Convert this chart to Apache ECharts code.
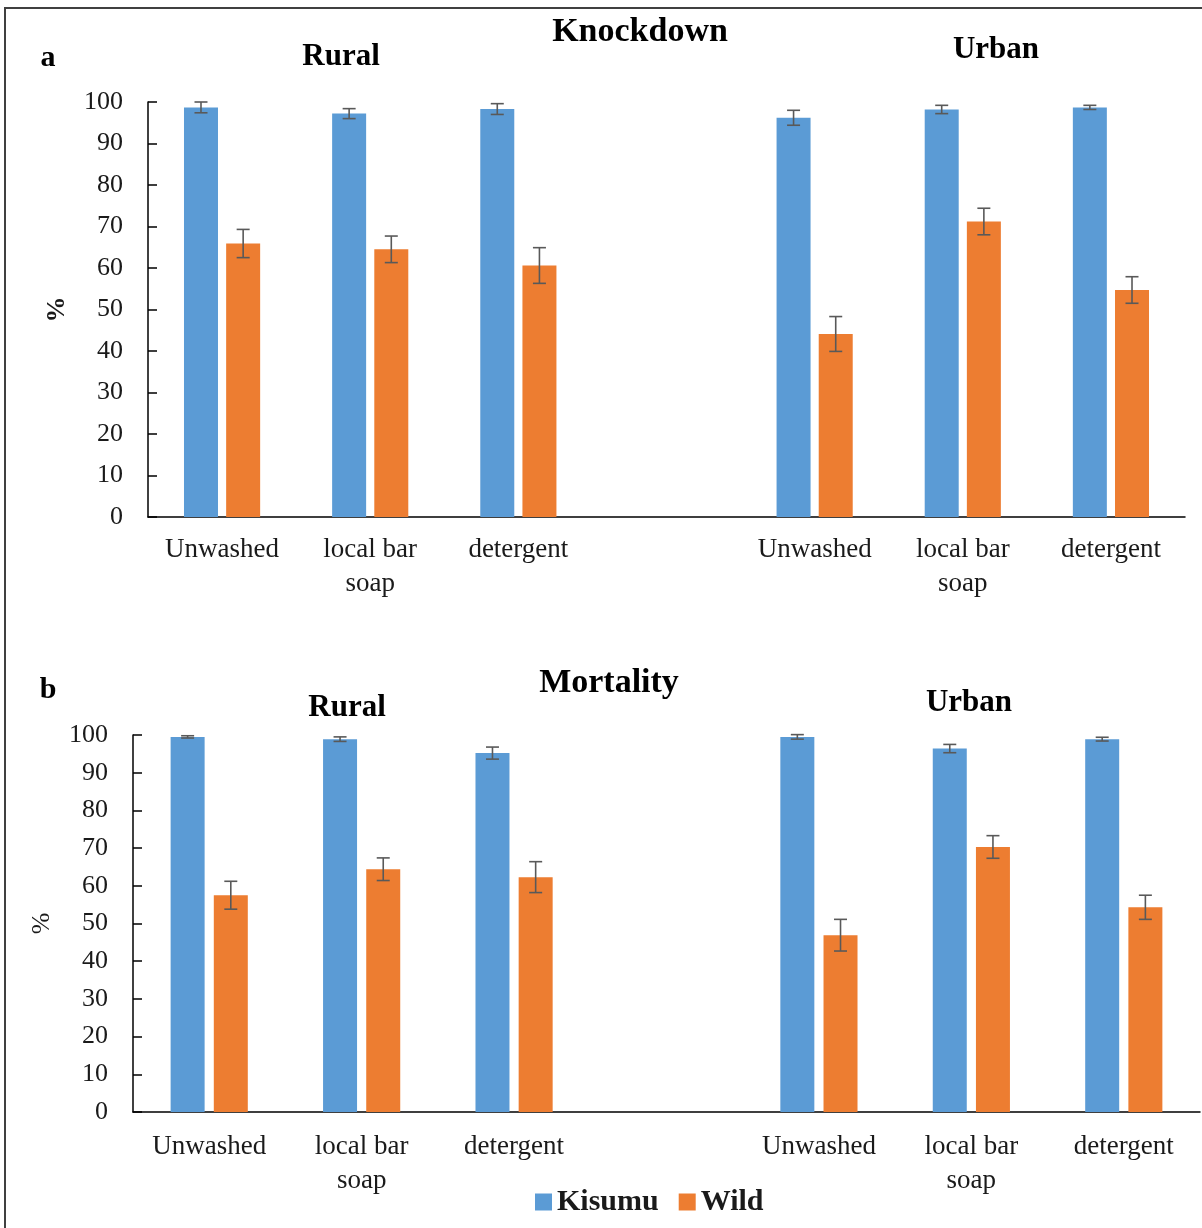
<!DOCTYPE html>
<html>
<head>
<meta charset="utf-8">
<script src="https://cdn.jsdelivr.net/npm/echarts@6/dist/echarts.min.js"></script>
<style>
html,body{margin:0;padding:0;background:#fff;}
#chart{width:1202px;height:1228px;}
</style>
</head>
<body>
<div id="chart"></div>
<script>
// ---- data ----
const categories = ['Unwashed', 'local bar\nsoap', 'detergent', '', 'Unwashed', 'local bar\nsoap', 'detergent'];
const yTicks = [0, 10, 20, 30, 40, 50, 60, 70, 80, 90, 100];

const knockdownKisumu    = [98.7, 97.2, 98.3, null, 96.2, 98.2, 98.7];
const knockdownKisumuErr = [1.3, 1.2, 1.3, null, 1.8, 1.0, 0.5];
const knockdownWild      = [65.9, 64.5, 60.6, null, 44.1, 71.2, 54.7];
const knockdownWildErr   = [3.4, 3.2, 4.3, null, 4.2, 3.2, 3.2];

const mortalityKisumu    = [99.5, 98.9, 95.2, null, 99.5, 96.4, 98.9];
const mortalityKisumuErr = [0.3, 0.6, 1.6, null, 0.6, 1.1, 0.5];
const mortalityWild      = [57.5, 64.4, 62.3, null, 46.9, 70.3, 54.3];
const mortalityWildErr   = [3.7, 3.0, 4.1, null, 4.2, 3.0, 3.2];

// ---- styles ----
const FONT = '"Liberation Serif", "Times New Roman", serif';
const BLUE = '#5B9BD5';
const ORANGE = '#ED7D31';
const ERR = '#595959';
const BAR_W = 34;

function errData(vals, errs) {
  const out = [];
  vals.forEach((v, i) => {
    if (v != null) out.push([i, v - errs[i], v + errs[i]]);
  });
  return out;
}
function barData(vals) { return vals.map(v => v == null ? '-' : v); }

function errSeries(name, vals, errs, gridIdx, offset) {
  return {
    type: 'custom',
    name: name + ' err',
    xAxisIndex: gridIdx, yAxisIndex: gridIdx,
    z: 5,
    silent: true,
    data: errData(vals, errs),
    renderItem: function (params, api) {
      const i = api.value(0);
      const lo = api.coord([i, api.value(1)]);
      const hi = api.coord([i, api.value(2)]);
      const x = lo[0] + offset;
      const cap = 6.5;
      const st = { stroke: ERR, lineWidth: 1.6 };
      return {
        type: 'group',
        children: [
          { type: 'line', shape: { x1: x, y1: lo[1], x2: x, y2: hi[1] }, style: st },
          { type: 'line', shape: { x1: x - cap, y1: lo[1], x2: x + cap, y2: lo[1] }, style: st },
          { type: 'line', shape: { x1: x - cap, y1: hi[1], x2: x + cap, y2: hi[1] }, style: st }
        ]
      };
    }
  };
}

function xAxis(gridIdx, margin) {
  return {
    type: 'category', gridIndex: gridIdx, data: categories,
    axisLine: { lineStyle: { color: '#000', width: 1.5 } },
    axisTick: { show: false },
    axisLabel: { interval: 0, margin: margin, fontFamily: FONT, fontSize: 27, color: '#1a1a1a', lineHeight: 34 }
  };
}
function yAxis(gridIdx, nameBold) {
  return {
    type: 'value', gridIndex: gridIdx, min: yTicks[0], max: yTicks[yTicks.length - 1], interval: 10,
    name: '%', nameLocation: 'middle', nameRotate: 90, nameGap: 78,
    nameTextStyle: { fontFamily: FONT, fontSize: 26, fontWeight: nameBold ? 'bold' : 'normal', color: '#1a1a1a' },
    axisLine: { show: true, lineStyle: { color: '#000', width: 1.5 } },
    axisTick: { show: true, inside: true, length: 9, lineStyle: { color: '#000', width: 1.5 } },
    splitLine: { show: false },
    axisLabel: { margin: 25, fontFamily: FONT, fontSize: 26, color: '#1a1a1a' }
  };
}

const offTop = (BAR_W + BAR_W * 0.24) / 2;
const offBot = (BAR_W + BAR_W * 0.27) / 2;

function t(x, y, s, size, bold) {
  return {
    type: 'text', x: x, y: y,
    style: { text: s, fontFamily: FONT, fontSize: size, fontWeight: bold ? 'bold' : 'normal', fill: '#000', align: 'center', verticalAlign: 'middle' }
  };
}

const option = {
  animation: false,
  backgroundColor: '#fff',
  grid: [
    { left: 148, top: 102, width: 1037, height: 415 },
    { left: 133, top: 735, width: 1067, height: 377 }
  ],
  xAxis: [xAxis(0, 16), xAxis(1, 18)],
  yAxis: [yAxis(0, true), yAxis(1, false)],
  legend: {
    data: ['Kisumu', 'Wild'],
    left: 530, top: 1182,
    icon: 'rect', itemWidth: 17, itemHeight: 17, itemGap: 20, itemStyle: {},
    textStyle: { fontFamily: FONT, fontSize: 30, fontWeight: 'bold', color: '#1a1a1a' }
  },
  series: [
    { type: 'bar', name: 'Kisumu', xAxisIndex: 0, yAxisIndex: 0, data: barData(knockdownKisumu), barWidth: BAR_W, barGap: '24%', itemStyle: { color: BLUE } },
    { type: 'bar', name: 'Wild', xAxisIndex: 0, yAxisIndex: 0, data: barData(knockdownWild), barWidth: BAR_W, barGap: '24%', itemStyle: { color: ORANGE } },
    errSeries('Kisumu', knockdownKisumu, knockdownKisumuErr, 0, -offTop),
    errSeries('Wild', knockdownWild, knockdownWildErr, 0, offTop),
    { type: 'bar', name: 'Kisumu', xAxisIndex: 1, yAxisIndex: 1, data: barData(mortalityKisumu), barWidth: BAR_W, barGap: '27%', itemStyle: { color: BLUE } },
    { type: 'bar', name: 'Wild', xAxisIndex: 1, yAxisIndex: 1, data: barData(mortalityWild), barWidth: BAR_W, barGap: '27%', itemStyle: { color: ORANGE } },
    errSeries('Kisumu', mortalityKisumu, mortalityKisumuErr, 1, -offBot),
    errSeries('Wild', mortalityWild, mortalityWildErr, 1, offBot)
  ],
  graphic: [
    { type: 'rect', shape: { x: 5, y: 8, width: 1210, height: 1240 }, style: { fill: null, stroke: '#404040', lineWidth: 2 }, silent: true },
    t(640, 32, 'Knockdown', 34, true),
    t(48, 58, 'a', 30, true),
    t(341, 57, 'Rural', 31, true),
    t(996, 50, 'Urban', 31, true),
    t(609, 683, 'Mortality', 34, true),
    t(48, 690, 'b', 30, true),
    t(347, 708, 'Rural', 31, true),
    t(969, 703, 'Urban', 31, true)
  ]
};

const chart = echarts.init(document.getElementById('chart'), null, { renderer: 'canvas' });
chart.setOption(option);
</script>
</body>
</html>
